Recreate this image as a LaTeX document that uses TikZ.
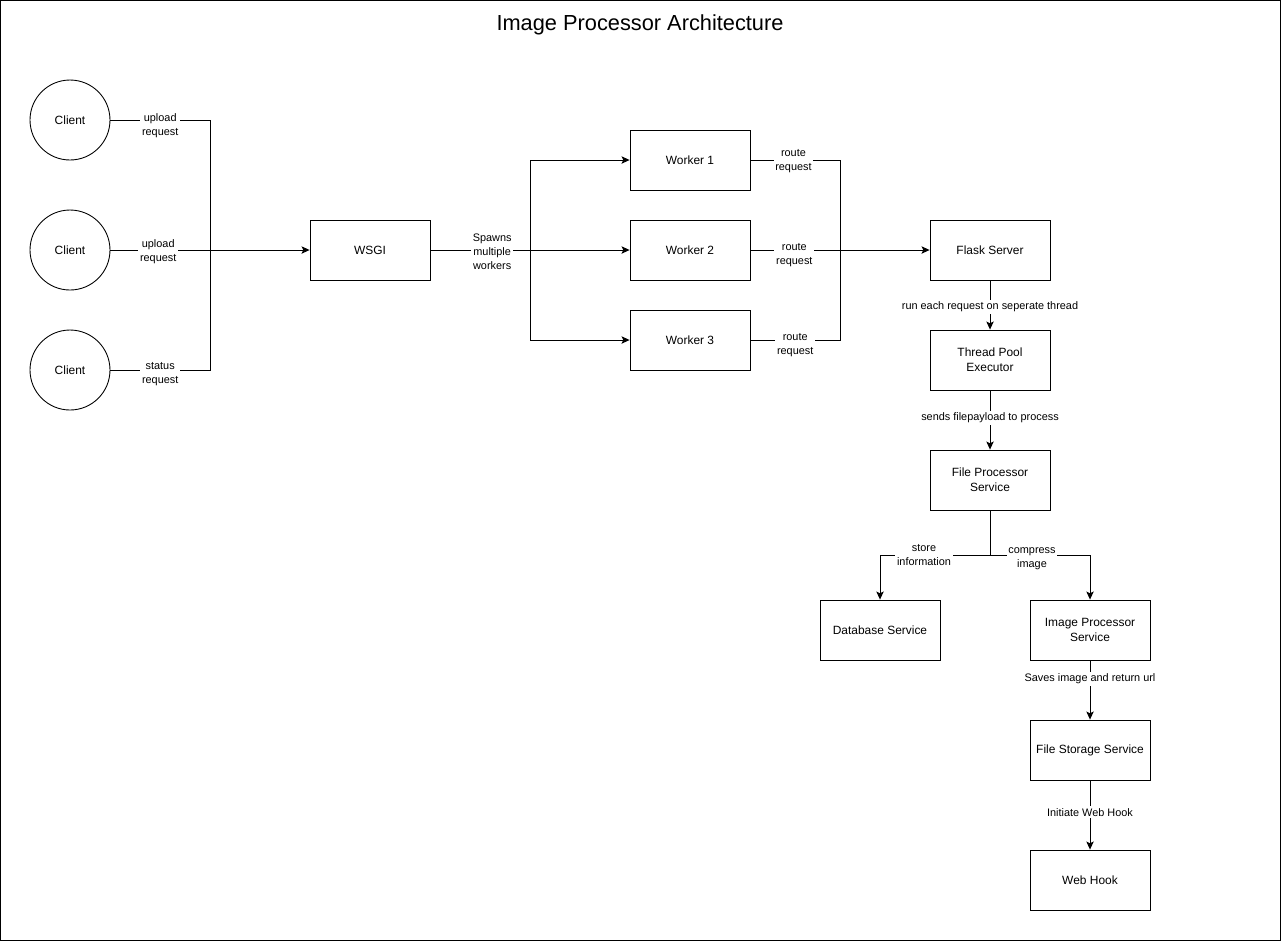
\documentclass[tikz,border=0pt]{standalone}
\usepackage{fontspec}
\setmainfont{Liberation Sans}
\usetikzlibrary{arrows.meta}
\tikzset{
    block/.style={draw, minimum width=2.4cm, minimum height=1.2cm,
        align=center, font=\fontsize{6.8}{8.5}\selectfont},
    client/.style={draw, circle, minimum size=1.6cm,
        font=\fontsize{6.8}{8.5}\selectfont},
    lbl/.style={fill=white, inner sep=1pt, align=center, yshift=-1.1pt,
        font=\fontsize{6.2}{7.9}\selectfont}
}
\begin{document}
\begin{tikzpicture}[>={Stealth[length=4.6pt,width=4.2pt,inset=1pt]}, x=0.02cm, y=-0.02cm, line width=0.5pt]
        \useasboundingbox (0,0) rectangle (1281,941);
        \draw (0.5,0.5) rectangle (1280.5,940.5);
        \node[font=\fontsize{12.4}{14}\selectfont] (title) at (640,25) {Image Processor Architecture};
        % clients
        \node[client] (c1) at (70,120) {Client};
        \node[client] (c2) at (70,250) {Client};
        \node[client] (c3) at (70,370) {Client};
        \coordinate (inbus) at (210,250);
        % boxes
        \node[block] (wsgi) at (370,250) {WSGI};
        \node[block] (w1) at (690,160) {Worker 1};
        \node[block] (w2) at (690,250) {Worker 2};
        \node[block] (w3) at (690,340) {Worker 3};
        \coordinate (spawn) at (530,250);
        \coordinate (route) at (840,250);
        \node[block] (flask) at (990,250) {Flask Server};
        \node[block] (pool) at (990,360) {Thread Pool\\Executor};
        \node[block] (fps) at (990,480) {File Processor\\Service};
        \coordinate (split) at (990,555);
        \node[block] (db) at (880,630) {Database Service};
        \node[block] (ips) at (1090,630) {Image Processor\\Service};
        \node[block] (store) at (1090,750) {File Storage Service};
        \node[block] (hook) at (1090,880) {Web Hook};
        % client side
        \draw (c1) -| node[lbl, pos=0.25, yshift=-2.3pt] {upload\\request} (inbus);
        \draw (c3) -| node[lbl, pos=0.25, yshift=-1.2pt] {status\\request} (inbus);
        \draw[->] (c2) -- node[lbl, pos=0.24] {upload\\request} (wsgi);
        % workers
        \draw[->] (wsgi) -- node[lbl, pos=0.31] {Spawns\\multiple\\workers} (w2);
        \draw[->] (spawn) |- (w1);
        \draw[->] (spawn) |- (w3);
        \draw (w1) -| node[lbl, pos=0.24, yshift=0.5pt] {route\\request} (route);
        \draw (w3) -| node[lbl, pos=0.25, yshift=-1.7pt] {route\\request} (route);
        \draw[->] (w2) -- node[lbl, pos=0.245, yshift=-1.7pt] {route\\request} (flask);
        % server chain
        \draw[->] (flask) -- node[lbl] {run each request on seperate thread} (pool);
        \draw[->] (pool) -- node[lbl, pos=0.43] {sends filepayload to process} (fps);
        \draw (fps) -- (split);
        \draw[->] (split) -| node[lbl, pos=0.3, yshift=1.1pt] {store\\information} (db);
        \draw[->] (split) -| node[lbl, pos=0.21, yshift=-0.9pt] {compress\\image} (ips);
        \draw[->] (ips) -- node[lbl, pos=0.28] {Saves image and return url} (store);
        \draw[->] (store) -- node[lbl, pos=0.46, yshift=1.1pt] {Initiate Web Hook} (hook);
    \end{tikzpicture}
\end{document}
